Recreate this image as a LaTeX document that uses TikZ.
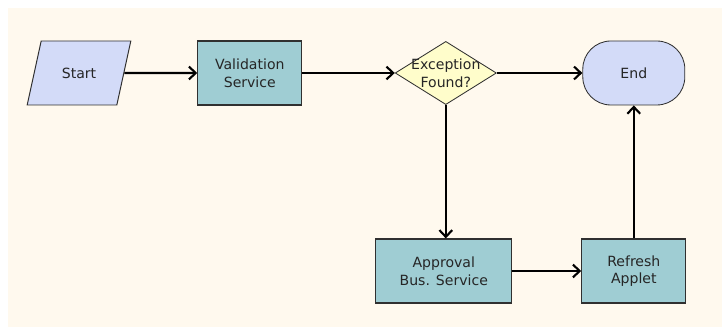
\documentclass[tikz,border=0pt]{standalone}
\usepackage{fontspec}
\setmainfont{DejaVu Sans}
\usetikzlibrary{positioning,shapes.geometric,arrows.meta}
\definecolor{bgcream}{HTML}{FFF9EE}
\definecolor{termblue}{HTML}{D3DBF8}
\definecolor{proczteal}{HTML}{9FCDD3}
\definecolor{decyellow}{HTML}{FFFDCB}
\definecolor{edgegray}{HTML}{303030}
\begin{document}
\begin{tikzpicture}[
node distance=4.7cm,
>={Straight Barb[length=1.7mm,width=3.2mm]},
every node/.style={
font=\fontsize{10}{12.5}\selectfont,
align=center,
text=black!85
},
io/.style={
draw=edgegray, line width=0.7pt, fill=termblue,
trapezium, trapezium left angle=68, trapezium right angle=112,
trapezium stretches=true,
minimum width=2.6cm, minimum height=1.6cm
},
process/.style={
draw=edgegray, line width=0.8pt, fill=proczteal,
minimum height=1.6cm
},
decision/.style={
draw=edgegray, line width=0.6pt, fill=decyellow,
diamond, inner sep=0pt,
minimum width=2.53cm, minimum height=1.58cm
},
terminal/.style={
draw=edgegray, line width=0.6pt, fill=termblue,
rounded corners=0.7cm,
minimum width=2.55cm, minimum height=1.6cm
},
flow/.style={->, line width=1.5pt}
]
\useasboundingbox (0,0) rectangle (18.05,8.175);
\fill[bgcream] (0.2,0) rectangle (18.05,7.975);

\node (start) [io] at (1.975,6.35) {Start};
\node (valid) [process, minimum width=2.6cm, right of=start, xshift=-0.43cm] {Validation\\Service};
\node (except) [decision, right of=valid, xshift=0.2cm,
  label={[align=center]center:{Exception\\Found?}}] {};
\node (finish) [terminal, right of=except] {End};
\node (approve) [process, minimum width=3.4cm, below of=except, yshift=-0.25cm, xshift=-0.05cm] {Approval\\Bus. Service};
\node (refresh) [process, minimum width=2.6cm, below of=finish, yshift=-0.25cm] {Refresh\\Applet};

\draw[flow] (start) -- (valid);
\draw[flow] (valid) -- (except);
\draw[flow] (except) -- (finish);
\draw[flow] (except.south) -- (except.south |- approve.north);
\draw[flow] (approve) -- (refresh);
\draw[flow] (refresh) -- (finish);
\end{tikzpicture}
\end{document}
